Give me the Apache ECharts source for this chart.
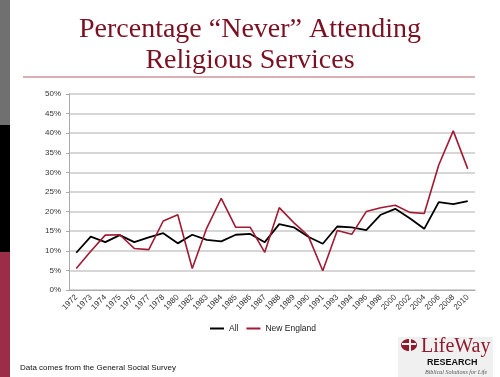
<!DOCTYPE html>
<html>
<head>
<meta charset="utf-8">
<script src="https://cdn.jsdelivr.net/npm/echarts@6/dist/echarts.min.js"></script>
<style>
    html, body { margin: 0; padding: 0; background: #fff; }
    #chart { width: 500px; height: 377px; }
</style>
</head>
<body>
<div id="chart"></div>
<script>
    // survey years (uneven spacing, as on the slide)
    var years = ['1972', '1973', '1974', '1975', '1976', '1977', '1978', '1980', '1982', '1983',
        '1984', '1985', '1986', '1987', '1988', '1989', '1990', '1991', '1993', '1994',
        '1996', '1998', '2000', '2002', '2004', '2006', '2008', '2010'];
    // % never attending - all respondents
    var allData = [9.5, 13.6, 12.2, 14.0, 12.2, 13.4, 14.5, 11.9, 14.1, 12.8,
        12.4, 14.1, 14.3, 12.2, 16.8, 16.0, 13.6, 11.8, 16.2, 16.0,
        15.3, 19.2, 20.7, 18.3, 15.6, 22.4, 21.9, 22.7];
    // % never attending - New England
    var newEnglandData = [5.5, 9.9, 14.0, 14.1, 10.6, 10.3, 17.6, 19.2, 5.5, 15.8,
        23.4, 16.0, 16.0, 9.6, 21.0, 17.2, 13.8, 4.9, 15.2, 14.2,
        20.0, 21.0, 21.6, 19.8, 19.5, 31.9, 40.6, 30.9];
    var seriesNames = ['All', 'New England'];

    var chart = echarts.init(document.getElementById('chart'));
    var sans = 'Liberation Sans, Arial, sans-serif';
    var serif = 'Liberation Serif, Times New Roman, serif';

    chart.setOption({
        animation: false,
        title: {
            text: 'Percentage \u201CNever\u201D Attending\nReligious Services',
            left: 'center',
            top: 9,
            textStyle: {
                fontFamily: serif,
                fontSize: 28,
                fontWeight: 'normal',
                color: '#7a1021',
                lineHeight: 31
            }
        },
        legend: {
            left: 205,
            top: 319,
            itemGap: 8,
            itemWidth: 14,
            itemHeight: 2,
            icon: 'rect',
            data: seriesNames,
            textStyle: {fontFamily: sans, fontSize: 8.5, color: '#222'}
        },
        grid: {
            left: 69,
            right: 25,
            top: 94,
            bottom: 87
        },
        xAxis: {
            type: 'category',
            data: years,
            boundaryGap: true,
            axisLine: {lineStyle: {color: '#aaa', width: 1}},
            axisTick: {length: 4, lineStyle: {color: '#aaa'}},
            axisLabel: {
                rotate: 45,
                interval: 0,
                margin: 6,
                fontFamily: sans,
                fontSize: 8,
                color: '#333'
            }
        },
        yAxis: {
            type: 'value',
            min: 0,
            max: 50,
            interval: 5,
            axisLine: {show: true, lineStyle: {color: '#aaa', width: 1}},
            axisTick: {show: true, length: 3, lineStyle: {color: '#aaa'}},
            axisLabel: {
                formatter: '{value}%',
                margin: 8,
                fontFamily: sans,
                fontSize: 8,
                color: '#333'
            },
            splitLine: {lineStyle: {color: '#c8c8c8', width: 1.5}}
        },
        series: [
            {
                name: 'All',
                type: 'line',
                data: allData,
                symbol: 'none',
                color: '#000',
                lineStyle: {color: '#000', width: 1.8}
            },
            {
                name: 'New England',
                type: 'line',
                data: newEnglandData,
                symbol: 'none',
                color: '#a11a33',
                lineStyle: {color: '#a11a33', width: 1.6}
            }
        ],
        graphic: [
            // left sidebar stripes
            {type: 'rect', left: 0, top: 0, shape: {width: 10, height: 125}, style: {fill: '#707070'}},
            {type: 'rect', left: 0, top: 125, shape: {width: 10, height: 127}, style: {fill: '#000'}},
            {type: 'rect', left: 0, top: 252, shape: {width: 10, height: 125}, style: {fill: '#9c2d46'}},
            // rule under title
            {type: 'line', shape: {x1: 23, y1: 77, x2: 475, y2: 77}, style: {stroke: '#b4606e', lineWidth: 1}},
            // source note
            {
                type: 'text', left: 20, top: 364,
                style: {text: 'Data comes from the General Social Survey', font: '8px ' + sans, fill: '#111'}
            },
            // logo
            {type: 'rect', shape: {x: 398, y: 337, width: 95, height: 40}, style: {fill: '#f0f0f0'}},
            {type: 'ellipse', shape: {cx: 409, cy: 345, rx: 8, ry: 6}, style: {fill: '#8e1a2c'}},
            {type: 'rect', shape: {x: 409, y: 339, width: 2, height: 12}, style: {fill: '#f0f0f0'}},
            {type: 'rect', shape: {x: 402, y: 343, width: 14, height: 2}, style: {fill: '#f0f0f0'}},
            {
                type: 'text', x: 421, y: 337,
                style: {text: 'LifeWay', font: '20px ' + serif, fill: '#8e1a2c'}
            },
            {
                type: 'text', x: 427, y: 358,
                style: {text: 'RESEARCH', font: 'bold 9px ' + sans, fill: '#111'}
            },
            {
                type: 'text', x: 425, y: 369,
                style: {text: 'Biblical Solutions for Life', font: 'italic 6px ' + serif, fill: '#555'}
            }
        ]
    });
</script>
</body>
</html>
